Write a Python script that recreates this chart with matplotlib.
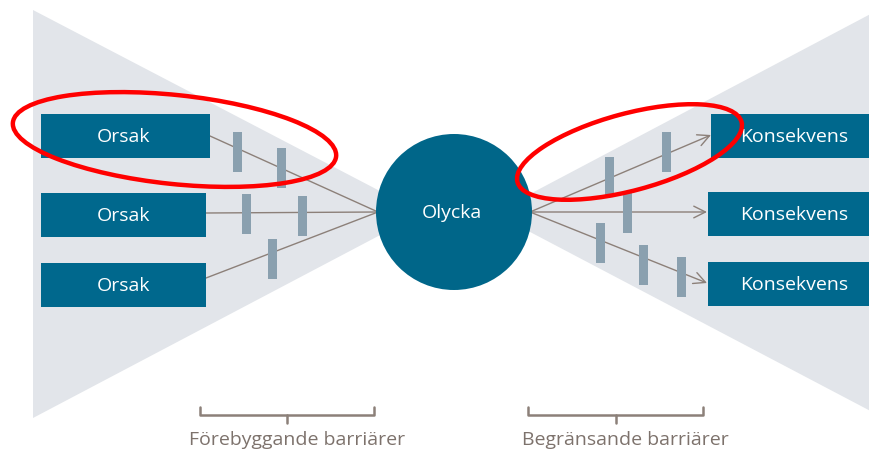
import matplotlib
matplotlib.use("Agg")
import matplotlib.pyplot as plt
from matplotlib.patches import Polygon, Rectangle, Circle, Ellipse

# ---- content ----
cause_labels = ["Orsak", "Orsak", "Orsak"]
consequence_labels = ["Konsekvens", "Konsekvens", "Konsekvens"]
event_label = "Olycka"
left_caption = "Förebyggande barriärer"
right_caption = "Begränsande barriärer"

# ---- style ----
BOX = "#00688d"
CIRCLE = "#006689"
BAR = "#8aa0af"
TRI = "#e2e5ea"
LINE = "#8c8079"
CAP = "#7d726c"
RED = "#ff0000"
FONT = "Open Sans"

W, H = 869, 453
fig = plt.figure(figsize=(W / 100, H / 100), dpi=100)
ax = fig.add_axes([0, 0, 1, 1])
ax.set_xlim(0, W)
ax.set_ylim(H, 0)
ax.axis("off")

# background triangles
ax.add_patch(Polygon([(33, 10), (33, 418), (422, 213)], closed=True, fc=TRI, ec="none", zorder=1))
ax.add_patch(Polygon([(880, 9), (880, 416), (494, 213)], closed=True, fc=TRI, ec="none", zorder=1))

# cause boxes (x0, x1, y0, y1)
cause_boxes = [(41, 210, 114, 158), (41, 206, 193, 237), (41, 206, 263, 307)]
cause_starts = [(210, 136), (206, 213), (206, 278)]
hub_left = (378, 212)
for (x0, x1, y0, y1), lab, st in zip(cause_boxes, cause_labels, cause_starts):
    ax.add_patch(Rectangle((x0, y0), x1 - x0, y1 - y0, fc=BOX, ec="none", zorder=4))
    ax.text(123, (y0 + y1) / 2 + 1, lab, color="white", fontsize=14,
            family=FONT, ha="center", va="center", zorder=5)
    ax.plot([st[0], hub_left[0]], [st[1], hub_left[1]], color=LINE, lw=1.0, zorder=2)

# consequence boxes
cons_boxes = [(711, 880, 114, 158), (708, 880, 192, 236), (708, 880, 262, 306)]
cons_tips = [(711, 135), (707, 212), (707, 283)]
hub_right = (530, 212)
for (x0, x1, y0, y1), lab, tip in zip(cons_boxes, consequence_labels, cons_tips):
    ax.add_patch(Rectangle((x0, y0), x1 - x0, y1 - y0, fc=BOX, ec="none", zorder=4))
    ax.text(794, (y0 + y1) / 2 + 1, lab, color="white", fontsize=14,
            family=FONT, ha="center", va="center", zorder=5)
    ax.annotate("", xy=tip, xytext=hub_right,
                arrowprops=dict(arrowstyle="->,head_length=0.6,head_width=0.3",
                                color=LINE, lw=1.0, shrinkA=0, shrinkB=0,
                                mutation_scale=14),
                zorder=2)

# barriers (center x, center y)
bars = [(237.5, 152), (281, 168), (246.5, 213.5), (302.5, 216), (272, 259),
        (609.5, 177), (666, 152), (627.5, 212.5), (600.5, 243), (643.5, 264.5), (681.5, 276.5)]
for cx, cy in bars:
    ax.add_patch(Rectangle((cx - 4.5, cy - 20), 9, 40, fc=BAR, ec="none", zorder=3))

# event circle
ax.add_patch(Circle((454, 212), 78, fc=CIRCLE, ec="none", zorder=6))
ax.text(452, 213, event_label, color="white", fontsize=14, family=FONT,
        ha="center", va="center", zorder=7)

# red highlight ellipses
ax.add_patch(Ellipse((174.5, 139.5), 325, 89, angle=6, fc="none", ec=RED, lw=3.2, zorder=8))
ax.add_patch(Ellipse((629.5, 152), 232, 77, angle=-15, fc="none", ec=RED, lw=3.2, zorder=8))

# brackets
def bracket(x0, x1, xm):
    ax.plot([x0, x0, x1, x1], [407, 415, 415, 407], color=LINE, lw=1.8,
            solid_joinstyle="round", solid_capstyle="round", zorder=3)
    ax.plot([xm, xm], [415, 423], color=LINE, lw=1.8, solid_capstyle="round", zorder=3)

bracket(200, 374, 287)
bracket(528, 703, 615.5)
ax.text(297, 440, left_caption, color=CAP, fontsize=14, family=FONT, ha="center", va="center")
ax.text(625.5, 440, right_caption, color=CAP, fontsize=14, family=FONT, ha="center", va="center")

fig.savefig("out.png", dpi=100)
